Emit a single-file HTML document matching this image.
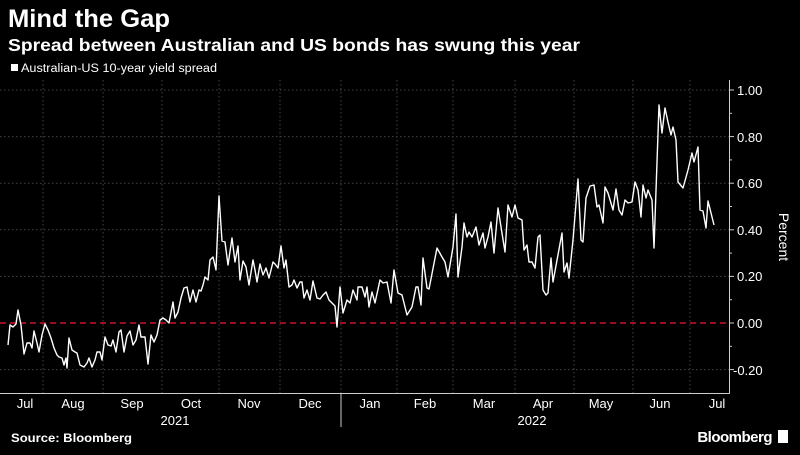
<!DOCTYPE html>
<html><head><meta charset="utf-8"><style>
body{margin:0;background:#000;width:800px;height:450px;overflow:hidden;font-family:"Liberation Sans",sans-serif;color:#fff}
</style></head><body>
<svg width="800" height="450" xmlns="http://www.w3.org/2000/svg" font-family="Liberation Sans, sans-serif">
<rect width="800" height="450" fill="#000"/>
<text x="8" y="27" font-size="25" font-weight="bold" fill="#fff" textLength="162" lengthAdjust="spacingAndGlyphs">Mind the Gap</text>
<text x="8" y="51" font-size="17.5" font-weight="bold" fill="#fff" textLength="572" lengthAdjust="spacingAndGlyphs">Spread between Australian and US bonds has swung this year</text>
<rect x="11" y="64" width="7" height="7" fill="#fff"/>
<text x="21" y="72" font-size="11.5" fill="#fff" textLength="196" lengthAdjust="spacingAndGlyphs">Australian-US 10-year yield spread</text>
<g stroke="#444" stroke-dasharray="1.5,2.5" stroke-width="1">
<line x1="0" x2="729" y1="90" y2="90"/><line x1="0" x2="729" y1="136.6" y2="136.6"/><line x1="0" x2="729" y1="183.2" y2="183.2"/><line x1="0" x2="729" y1="229.8" y2="229.8"/><line x1="0" x2="729" y1="276.4" y2="276.4"/><line x1="0" x2="729" y1="369.6" y2="369.6"/>
<line x1="43" x2="43" y1="80" y2="393"/><line x1="103" x2="103" y1="80" y2="393"/><line x1="162" x2="162" y1="80" y2="393"/><line x1="219" x2="219" y1="80" y2="393"/><line x1="280" x2="280" y1="80" y2="393"/><line x1="341" x2="341" y1="80" y2="393"/><line x1="397" x2="397" y1="80" y2="393"/><line x1="453" x2="453" y1="80" y2="393"/><line x1="515" x2="515" y1="80" y2="393"/><line x1="574" x2="574" y1="80" y2="393"/><line x1="633" x2="633" y1="80" y2="393"/><line x1="690" x2="690" y1="80" y2="393"/>
</g>
<line x1="0" x2="729" y1="323" y2="323" stroke="#d0102a" stroke-width="1.6" stroke-dasharray="6,4"/>
<polyline fill="none" stroke="#fff" stroke-width="1.4" stroke-linejoin="round" points="8,345 10,325 13,327 16,324 18,310 21,325 24,354 27,343 30,343 32,348 34,331 37,343 39,352 42,335 45,324 48,330 51,338 54,348 57,355 59,357 62,358 64,365 66,358 67,368 69,338 72,350 75,352 77,353 80,365 84,367 87,363 89,358 92,367 95,360 97,352 100,352 102,360 105,337 108,345 111,346 113,340 116,352 119,332 121,330 124,352 127,336 130,331 133,345 136,340 139,325 141,337 145,337 148,364 151,335 154,342 157,335 160,320 163,318 166,320 169,323 173,302 175,318 178,312 181,298 184,288 187,287 190,302 193,290 196,302 199,290 201,291 203,285 205,277 208,280 210,260 213,257 216,270 219,196 222,241 225,242 228,265 232,238 235,262 238,246 240,280 243,261 246,267 249,285 253,260 255,270 257,282 260,264 263,275 266,268 269,278 273,262 275,264 278,268 281,246 284,268 286,260 289,287 292,285 294,280 297,288 300,282 302,282 304,298 307,290 310,300 313,281 317,298 320,299 323,295 326,292 329,300 332,303 335,306 337,327 340,287 343,313 347,300 350,303 353,290 357,300 358,287 362,287 365,297 367,287 369,307 372,292 375,303 380,280 383,283 387,282 391,303 394,270 398,293 402,295 407,315 412,307 416,287 418,287 421,305 423,258 427,288 429,289 437,248 442,257 445,262 448,277 453,247 456,214 458,277 462,247 464,223 467,237 469,232 472,237 476,227 479,245 483,233 485,248 488,237 491,222 494,253 498,208 505,252 508,205 512,217 515,205 518,218 522,220 524,250 527,245 529,262 532,262 535,268 538,237 540,235 543,290 546,295 548,293 551,258 553,282 562,233 564,272 567,263 569,278 573,240 578,179 581,240 583,242 586,198 590,186 594,185 597,207 599,205 603,223 605,187 608,193 613,210 616,189 619,210 622,215 625,200 628,203 632,202 635,182 638,190 641,217 643,185 646,198 648,190 652,200 654,248 659,105 662,133 665,108 668,122 671,135 673,127 676,140 678,182 683,188 688,170 692,153 694,162 698,147 700,210 703,211 706,228 708,201 711,213 714,225"/>
<line x1="729.5" x2="729.5" y1="80" y2="393" stroke="#ccc"/>
<line x1="0" x2="730" y1="393.5" y2="393.5" stroke="#ccc"/>
<g stroke="#ccc"><line x1="729" x2="734" y1="90" y2="90"/><line x1="729" x2="734" y1="136.6" y2="136.6"/><line x1="729" x2="734" y1="183.2" y2="183.2"/><line x1="729" x2="734" y1="229.8" y2="229.8"/><line x1="729" x2="734" y1="276.4" y2="276.4"/><line x1="729" x2="734" y1="323" y2="323"/><line x1="729" x2="734" y1="369.6" y2="369.6"/>
<line x1="729" x2="732" y1="113.3" y2="113.3"/><line x1="729" x2="732" y1="159.9" y2="159.9"/><line x1="729" x2="732" y1="206.5" y2="206.5"/><line x1="729" x2="732" y1="253.1" y2="253.1"/><line x1="729" x2="732" y1="299.7" y2="299.7"/><line x1="729" x2="732" y1="346.3" y2="346.3"/>
<line x1="341" x2="341" y1="393" y2="427"/></g>
<g font-size="13" fill="#fff">
<text x="737" y="95">1.00</text><text x="737" y="142">0.80</text><text x="737" y="188">0.60</text><text x="737" y="235">0.40</text><text x="737" y="281">0.20</text><text x="737" y="328">0.00</text><text x="733" y="375">-0.20</text>
</g>
<text transform="translate(779,237) rotate(90)" font-size="14" fill="#fff" text-anchor="middle">Percent</text>
<g font-size="13" fill="#fff" text-anchor="middle">
<text x="25" y="408">Jul</text><text x="73" y="408">Aug</text><text x="132" y="408">Sep</text><text x="191" y="408">Oct</text><text x="249" y="408">Nov</text><text x="310" y="408">Dec</text><text x="370" y="408">Jan</text><text x="425" y="408">Feb</text><text x="484" y="408">Mar</text><text x="543" y="408">Apr</text><text x="601" y="408">May</text><text x="660" y="408">Jun</text><text x="717" y="408">Jul</text>
<text x="175" y="425">2021</text><text x="532" y="425">2022</text>
</g>
<text x="11" y="442" font-size="12" font-weight="bold" fill="#fff" textLength="121" lengthAdjust="spacingAndGlyphs">Source: Bloomberg</text>
<text x="772" y="442" font-size="15" fill="#fff" text-anchor="end" font-weight="bold" letter-spacing="-0.5">Bloomberg</text>
<rect x="778" y="430" width="10" height="13" fill="#fff"/>
</svg>
</body></html>
